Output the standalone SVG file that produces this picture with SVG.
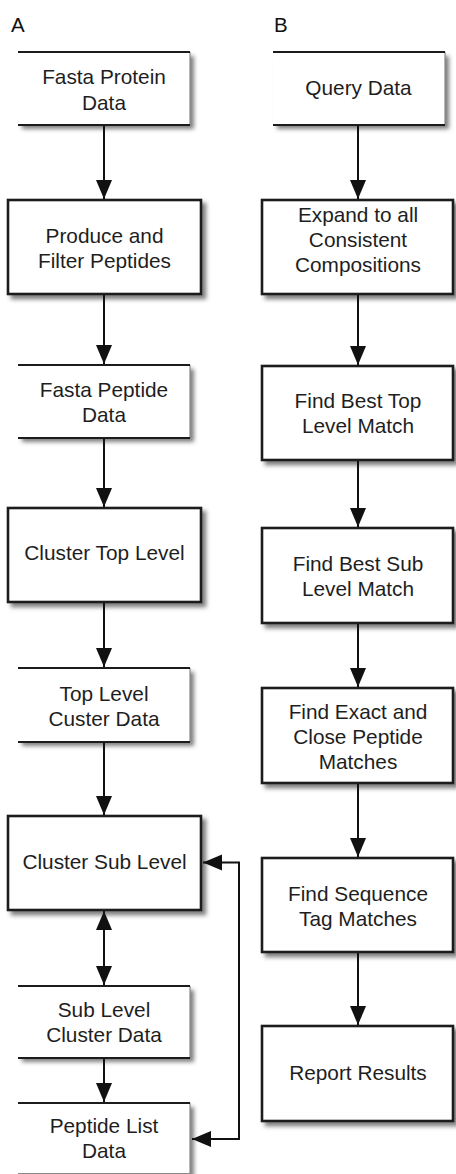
<svg xmlns="http://www.w3.org/2000/svg" width="456" height="1174" viewBox="0 0 456 1174">
<defs>
<style>
.bg{fill:#ffffff}
.proc{fill:#ffffff;stroke:#1c1c1c;stroke-width:2.6;filter:url(#sh)}
.dfill{fill:#ffffff;filter:url(#sh)}
.dline{stroke:#1c1c1c;stroke-width:2.2;fill:none}
.dedge{stroke:#8a8a8a;stroke-width:1.2;fill:none}
.t{font-family:"Liberation Sans",Arial,Helvetica,sans-serif;font-size:20.8px;fill:#1e1e1e;text-anchor:middle}
.lbl{font-family:"Liberation Sans",Arial,Helvetica,sans-serif;font-size:20.5px;fill:#111}
.c{stroke:#111;stroke-width:2;fill:none;marker-end:url(#ah)}
.c2{stroke:#111;stroke-width:2;fill:none;marker-end:url(#ah);marker-start:url(#ah)}
</style>
<filter id="sh" x="-10%" y="-10%" width="130%" height="140%">
<feDropShadow dx="4" dy="4" stdDeviation="2.2" flood-color="#000" flood-opacity="0.5"/>
</filter>
<marker id="ah" markerUnits="userSpaceOnUse" markerWidth="20" markerHeight="17" refX="19" refY="8" orient="auto-start-reverse" viewBox="0 0 20 17">
<path d="M0,0 L19,8 L0,16 Z" fill="#111"/>
</marker>
</defs>
<rect class="bg" x="0" y="0" width="456" height="1174"/>
<text class="lbl" x="11" y="32">A</text>
<text class="lbl" x="274" y="32">B</text>

<g id="a1">
<rect class="dfill" x="18" y="52" width="172" height="73"/>
<line class="dedge" x1="190" y1="52" x2="190" y2="125"/>
<line class="dline" x1="18" y1="52" x2="190" y2="52"/>
<line class="dline" x1="18" y1="125" x2="190" y2="125"/>
<text class="t" x="104" y="84">Fasta Protein</text>
<text class="t" x="104" y="109.5">Data</text>
</g>
<g id="a2">
<rect class="proc" x="8" y="200" width="193" height="94"/>
<text class="t" x="104.5" y="243">Produce and</text>
<text class="t" x="104.5" y="268">Filter Peptides</text>
</g>
<g id="a3">
<rect class="dfill" x="18" y="365" width="172" height="73"/>
<line class="dedge" x1="190" y1="365" x2="190" y2="438"/>
<line class="dline" x1="18" y1="365" x2="190" y2="365"/>
<line class="dline" x1="18" y1="438" x2="190" y2="438"/>
<text class="t" x="104" y="397">Fasta Peptide</text>
<text class="t" x="104" y="422">Data</text>
</g>
<g id="a4">
<rect class="proc" x="8" y="508" width="193" height="94"/>
<text class="t" x="104.5" y="560">Cluster Top Level</text>
</g>
<g id="a5">
<rect class="dfill" x="18" y="668" width="172" height="74"/>
<line class="dedge" x1="190" y1="668" x2="190" y2="742"/>
<line class="dline" x1="18" y1="668" x2="190" y2="668"/>
<line class="dline" x1="18" y1="742" x2="190" y2="742"/>
<text class="t" x="104" y="701">Top Level</text>
<text class="t" x="104" y="726">Custer Data</text>
</g>
<g id="a6">
<rect class="proc" x="8" y="816" width="193" height="94"/>
<text class="t" x="104.5" y="869">Cluster Sub Level</text>
</g>
<g id="a7">
<rect class="dfill" x="18" y="986" width="172" height="72"/>
<line class="dedge" x1="190" y1="986" x2="190" y2="1058"/>
<line class="dline" x1="18" y1="986" x2="190" y2="986"/>
<line class="dline" x1="18" y1="1058" x2="190" y2="1058"/>
<text class="t" x="104" y="1017">Sub Level</text>
<text class="t" x="104" y="1042">Cluster Data</text>
</g>
<g id="a8">
<rect class="dfill" x="18" y="1103" width="172" height="71"/>
<line class="dedge" x1="190" y1="1103" x2="190" y2="1174"/>
<line class="dline" x1="18" y1="1103" x2="190" y2="1103"/>
<line class="dedge" x1="18" y1="1173.5" x2="190" y2="1173.5"/>
<text class="t" x="104" y="1133">Peptide List</text>
<text class="t" x="104" y="1158">Data</text>
</g>

<g id="b1">
<rect class="dfill" x="273" y="52" width="172" height="73"/>
<line class="dedge" x1="445" y1="52" x2="445" y2="125"/>
<line class="dline" x1="273" y1="52" x2="445" y2="52"/>
<line class="dline" x1="273" y1="125" x2="445" y2="125"/>
<text class="t" x="358.5" y="95">Query Data</text>
</g>
<g id="b2">
<rect class="proc" x="262" y="200" width="191" height="94"/>
<text class="t" x="358" y="222">Expand to all</text>
<text class="t" x="358" y="247">Consistent</text>
<text class="t" x="358" y="272">Compositions</text>
</g>
<g id="b3">
<rect class="proc" x="262" y="366" width="191" height="94"/>
<text class="t" x="358" y="408">Find Best Top</text>
<text class="t" x="358" y="433">Level Match</text>
</g>
<g id="b4">
<rect class="proc" x="262" y="528" width="191" height="95"/>
<text class="t" x="358" y="571">Find Best Sub</text>
<text class="t" x="358" y="596">Level Match</text>
</g>
<g id="b5">
<rect class="proc" x="262" y="688" width="191" height="95"/>
<text class="t" x="358" y="719">Find Exact and</text>
<text class="t" x="358" y="744">Close Peptide</text>
<text class="t" x="358" y="769">Matches</text>
</g>
<g id="b6">
<rect class="proc" x="262" y="858" width="191" height="94"/>
<text class="t" x="358" y="901">Find Sequence</text>
<text class="t" x="358" y="926">Tag Matches</text>
</g>
<g id="b7">
<rect class="proc" x="262" y="1026" width="191" height="95"/>
<text class="t" x="358" y="1080">Report Results</text>
</g>

<g id="connectors">
<line class="c" x1="104" y1="126" x2="104" y2="199"/>
<line class="c" x1="104" y1="295" x2="104" y2="364"/>
<line class="c" x1="104" y1="439" x2="104" y2="507"/>
<line class="c" x1="104" y1="603" x2="104" y2="667"/>
<line class="c" x1="104" y1="743" x2="104" y2="815"/>
<line class="c2" x1="104" y1="911" x2="104" y2="985"/>
<line class="c" x1="104" y1="1059" x2="104" y2="1102"/>
<path class="c2" d="M203,862.5 H239 V1139 H192"/>
<line class="c" x1="358" y1="126" x2="358" y2="199"/>
<line class="c" x1="358" y1="295" x2="358" y2="365"/>
<line class="c" x1="358" y1="461" x2="358" y2="527"/>
<line class="c" x1="358" y1="624" x2="358" y2="687"/>
<line class="c" x1="358" y1="784" x2="358" y2="857"/>
<line class="c" x1="358" y1="953" x2="358" y2="1025"/>
</g>
</svg>
